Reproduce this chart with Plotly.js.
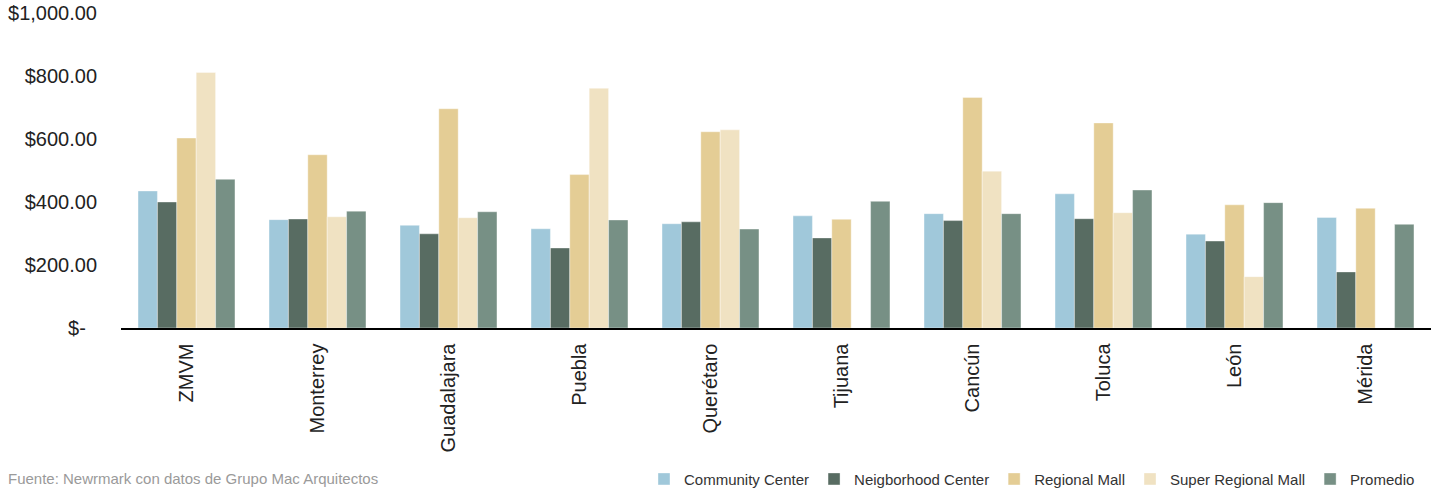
<!DOCTYPE html>
<html>
<head>
<meta charset="utf-8">
<script src="https://cdn.plot.ly/plotly-3.0.1.min.js"></script>
<style>html,body{margin:0;padding:0;background:#fff;}#chart{width:1438px;height:490px;}</style>
</head>
<body>
<div id="chart"></div>
<script>
const categories = ["ZMVM","Monterrey","Guadalajara","Puebla","Querétaro","Tijuana","Cancún","Toluca","León","Mérida"];
const communityCenter = [435, 344, 326, 315, 331, 356, 363, 426, 298, 351];
const neighborhoodCenter = [400, 346, 299, 254, 337, 286, 341, 347, 276, 178];
const regionalMall = [603, 550, 696, 487, 623, 345, 732, 651, 391, 380];
const superRegionalMall = [811, 353, 350, 761, 629, null, 498, 366, 163, null];
const promedio = [472, 371, 369, 343, 314, 402, 363, 438, 398, 329];
const yTickVals = [0, 200, 400, 600, 800, 1000];
const yTickText = ["$-\u00a0\u00a0", "$200.00", "$400.00", "$600.00", "$800.00", "$1,000.00"];
const sourceText = "Fuente: Newrmark con datos de Grupo Mac Arquitectos";

const series = [
  {name: "Community Center", y: communityCenter, color: "#a0c8da"},
  {name: "Neigborhood Center", y: neighborhoodCenter, color: "#586c62"},
  {name: "Regional Mall", y: regionalMall, color: "#e4cd95"},
  {name: "Super Regional Mall", y: superRegionalMall, color: "#f0e2c2"},
  {name: "Promedio", y: promedio, color: "#779085"}
];

const font = "'Liberation Sans', Arial, sans-serif";
const traces = series.map(s => ({
  type: "bar",
  name: s.name,
  x: categories,
  y: s.y,
  marker: {color: s.color, line: {color: "rgba(255,255,255,0.5)", width: 0.75}},
  hoverinfo: "x+y+name"
}));

const layout = {
  width: 1438,
  height: 490,
  margin: {l: 121, r: 7, t: 13, b: 162, autoexpand: false},
  paper_bgcolor: "#fff",
  plot_bgcolor: "#fff",
  barmode: "group",
  bargap: 0.26,
  bargroupgap: 0,
  font: {family: font, color: "#222"},
  xaxis: {
    type: "category",
    tickangle: -90,
    tickfont: {size: 20, color: "#222", family: font},
    showline: true,
    linecolor: "#000",
    linewidth: 1.5,
    ticks: "",
    showgrid: false,
    zeroline: false,
    ticklabelstandoff: 6
  },
  yaxis: {
    range: [0, 1000],
    tickvals: yTickVals,
    ticktext: yTickText,
    tickfont: {size: 20, color: "#222", family: font},
    showgrid: false,
    zeroline: false,
    showline: false,
    ticks: "",
    ticklabelstandoff: 23
  },
  showlegend: true,
  legend: {
    orientation: "h",
    x: 0.9916,
    xanchor: "right",
    y: -0.48,
    yanchor: "middle",
    font: {size: 15, color: "#333", family: font},
    itemwidth: 30,
    traceorder: "normal"
  },
  annotations: [{
    text: sourceText,
    xref: "paper", yref: "paper",
    x: -0.0878, y: -0.479,
    xanchor: "left", yanchor: "middle",
    showarrow: false,
    font: {size: 15, color: "#9a9a9a", family: font}
  }]
};

Plotly.newPlot("chart", traces, layout, {displayModeBar: false, staticPlot: true});
</script>
</body>
</html>
